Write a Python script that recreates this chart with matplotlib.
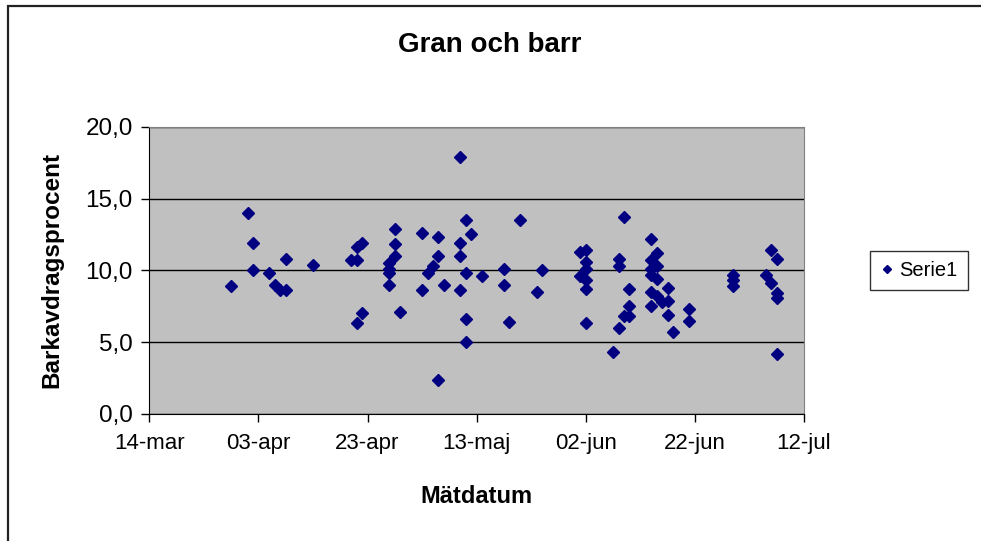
import matplotlib
matplotlib.use('Agg')
import matplotlib.pyplot as plt
from matplotlib.patches import Rectangle
from matplotlib.ticker import FuncFormatter
import pandas as pd

plt.rcParams['font.family'] = ['Liberation Sans', 'DejaVu Sans']

dates = ['2005-03-29', '2005-04-01', '2005-04-02', '2005-04-02', '2005-04-05', '2005-04-06',
         '2005-04-07', '2005-04-08', '2005-04-08', '2005-04-13', '2005-04-20', '2005-04-21',
         '2005-04-21', '2005-04-22', '2005-04-21', '2005-04-22', '2005-04-27', '2005-04-27',
         '2005-04-27', '2005-04-27', '2005-04-28', '2005-04-28', '2005-04-28', '2005-04-29',
         '2005-05-03', '2005-05-03', '2005-05-04', '2005-05-05', '2005-05-06', '2005-05-06',
         '2005-05-06', '2005-05-07', '2005-05-10', '2005-05-10', '2005-05-10', '2005-05-10',
         '2005-05-11', '2005-05-11', '2005-05-11', '2005-05-11', '2005-05-12', '2005-05-14',
         '2005-05-18', '2005-05-18', '2005-05-19', '2005-05-21', '2005-05-24', '2005-05-25',
         '2005-06-01', '2005-06-02', '2005-06-02', '2005-06-02', '2005-06-01', '2005-06-02',
         '2005-06-02', '2005-06-02', '2005-06-07', '2005-06-08', '2005-06-08', '2005-06-08',
         '2005-06-09', '2005-06-09', '2005-06-10', '2005-06-10', '2005-06-10', '2005-06-14',
         '2005-06-15', '2005-06-14', '2005-06-15', '2005-06-14', '2005-06-15', '2005-06-14',
         '2005-06-15', '2005-06-14', '2005-06-16', '2005-06-17', '2005-06-17', '2005-06-17',
         '2005-06-18', '2005-06-21', '2005-06-21', '2005-06-29', '2005-06-29', '2005-06-29',
         '2005-07-05', '2005-07-06', '2005-07-07', '2005-07-06', '2005-07-07', '2005-07-07',
         '2005-07-07', '2005-06-14']
values = [8.9, 14.0, 11.9, 10.0, 9.8, 9.0,
          8.6, 8.6, 10.8, 10.4, 10.7, 10.7,
          11.6, 11.9, 6.3, 7.0, 10.5, 10.1,
          9.8, 9.0, 12.9, 11.8, 11.0, 7.1,
          12.6, 8.6, 9.8, 10.3, 12.3, 11.0,
          2.4, 9.0, 17.9, 11.9, 11.0, 8.6,
          13.5, 9.8, 6.6, 5.0, 12.5, 9.6,
          10.1, 9.0, 6.4, 13.5, 8.5, 10.0,
          11.3, 11.4, 10.6, 10.1, 9.6, 9.3,
          8.7, 6.3, 4.3, 10.8, 10.3, 6.0,
          13.7, 6.8, 8.7, 7.5, 6.8, 12.2,
          11.2, 10.7, 10.3, 9.7, 9.4, 8.5,
          8.2, 7.5, 7.8, 8.8, 7.9, 6.9,
          5.7, 7.3, 6.5, 9.7, 9.3, 8.9,
          9.7, 11.4, 10.8, 9.1, 8.4, 8.1,
          4.2, 10.1]

tick_dates = ['2005-03-14', '2005-04-03', '2005-04-23', '2005-05-13',
              '2005-06-02', '2005-06-22', '2005-07-12']
tick_labels = ['14-mar', '03-apr', '23-apr', '13-maj', '02-jun', '22-jun', '12-jul']

x = pd.to_datetime(dates)
ticks = pd.to_datetime(tick_dates)

fig = plt.figure(figsize=(9.81, 5.41), dpi=100)
ax = fig.add_axes([0.1522, 0.2348, 0.6674, 0.531])
ax.set_facecolor('#c0c0c0')

ax.plot(x, values, linestyle='none', marker='D', ms=6.2, color='#000080',
        markeredgecolor='#000080', label='Serie1', zorder=3)

ax.set_xlim(ticks[0], ticks[-1])
ax.set_ylim(0, 20)
ax.set_xticks(ticks)
ax.set_xticklabels(tick_labels, fontsize=16)
ax.set_yticks([0, 5, 10, 15, 20])
ax.yaxis.set_major_formatter(FuncFormatter(lambda v, p: ('%.1f' % v).replace('.', ',')))
ax.tick_params(axis='y', labelsize=17.5, length=6, width=1, direction='out', pad=6)
ax.tick_params(axis='x', length=6, width=1, direction='out', pad=8)

ax.grid(axis='y', color='black', linewidth=1)
ax.set_axisbelow(True)
ax.spines['left'].set_color('black')
ax.spines['bottom'].set_color('black')
ax.spines['top'].set_color('#808080')
ax.spines['right'].set_color('#808080')

fig.text(490 / 981, 1 - 45 / 541, 'Gran och barr', fontsize=20, fontweight='bold',
         ha='center', va='center')
ax.set_xlabel('Mätdatum', fontsize=17, fontweight='bold', labelpad=22)
ax.set_ylabel('Barkavdragsprocent', fontsize=17.5, fontweight='bold', labelpad=16)

leg = ax.legend(loc='center left', bbox_to_anchor=(1.101, 0.5), borderaxespad=0,
                fontsize=14.5, frameon=True, fancybox=False, edgecolor='black',
                borderpad=0.5, handlelength=0.7, handletextpad=0.25, markerscale=0.7)
leg.get_frame().set_linewidth(1)

# outer chart border
fig.add_artist(Rectangle((7.5 / 981, -0.1), 1.2, 1 - 5.5 / 541 + 0.1,
                         transform=fig.transFigure, fill=False,
                         edgecolor='#222222', linewidth=1.6))

fig.savefig('out.png', dpi=100)
